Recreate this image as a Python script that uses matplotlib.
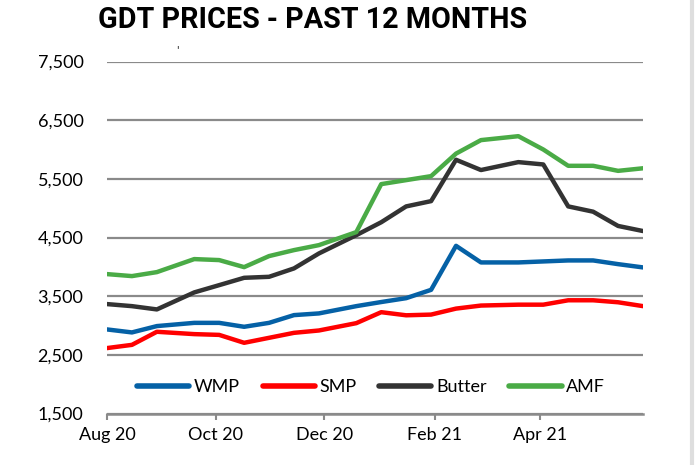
import matplotlib
matplotlib.use("Agg")
import matplotlib.pyplot as plt
import matplotlib.dates as mdates
import numpy as np
from matplotlib import font_manager
from matplotlib.lines import Line2D

# ---------------- data ----------------
auction_dates = ["2020-08-04", "2020-08-18", "2020-09-01", "2020-09-22", "2020-10-06",
                 "2020-10-20", "2020-11-03", "2020-11-17", "2020-12-01", "2020-12-22",
                 "2021-01-05", "2021-01-19", "2021-02-02", "2021-02-16", "2021-03-02",
                 "2021-03-23", "2021-04-06", "2021-04-20", "2021-05-04", "2021-05-18",
                 "2021-06-01"]
wmp = [2933, 2882, 2990, 3045, 3045, 2978, 3045, 3177, 3206, 3330, 3400,
       3466, 3608, 4358, 4075, 4075, 4092, 4109, 4109, 4046, 3990]
smp = [2615, 2670, 2893, 2853, 2840, 2705, 2790, 2875, 2915, 3040, 3227,
       3174, 3186, 3288, 3340, 3355, 3355, 3430, 3430, 3396, 3330]
butter = [3365, 3330, 3274, 3564, 3688, 3813, 3830, 3973, 4228, 4540, 4760,
          5030, 5120, 5825, 5650, 5785, 5745, 5030, 4940, 4697, 4610]
amf = [3876, 3842, 3910, 4132, 4115, 3995, 4183, 4285, 4370, 4592, 5410,
       5478, 5546, 5930, 6160, 6227, 6000, 5722, 5722, 5636, 5680]
series_names = ["WMP", "SMP", "Butter", "AMF"]
tick_dates = ["2020-08-04", "2020-10-04", "2020-12-04", "2021-02-04", "2021-04-04"]
tick_labels = ["Aug 20", "Oct 20", "Dec 20", "Feb 21", "Apr 21"]
y_ticks = [1500, 2500, 3500, 4500, 5500, 6500, 7500]
title = "GDT PRICES - PAST 12 MONTHS"

# ---------------- style ----------------
colors = ["#0561a6", "#ff0000", "#333333", "#4aab46"]
grid_color = "#8a8a8a"
names = {f.name for f in font_manager.fontManager.ttflist}
label_font = ["Lato", "DejaVu Sans"] if "Lato" in names else ["DejaVu Sans"]
title_font = [f for f in ["Liberation Sans Narrow", "Roboto", "DejaVu Sans"] if f in names][:1] + ["DejaVu Sans"]

W, H = 697, 465
fig = plt.figure(figsize=(W / 100, H / 100), dpi=100)
ax = fig.add_axes([107 / W, 1 - 413.5 / H, 536 / W, 352 / H])

x = mdates.date2num(np.array(auction_dates, dtype="datetime64[D]"))
for vals, c, n in zip([wmp, smp, butter, amf], colors, series_names):
    ax.plot(x, vals, color=c, lw=3.2, label=n, solid_joinstyle="round",
            solid_capstyle="round", zorder=3)

ax.set_xlim(x[0], x[-1])
ax.set_ylim(y_ticks[0], y_ticks[-1])
ax.set_yticks(y_ticks)
ax.set_yticklabels([f"{v:,}" for v in y_ticks], family=label_font, fontsize=13)
tx = mdates.date2num(np.array(tick_dates, dtype="datetime64[D]"))
ax.set_xticks(tx)
ax.set_xticklabels(tick_labels, family=label_font, fontsize=13)

ax.yaxis.grid(True, color=grid_color, lw=1.6, zorder=1)
ax.set_axisbelow(True)
for s in ["top", "right", "left"]:
    ax.spines[s].set_visible(False)
ax.spines["bottom"].set_color(grid_color)
ax.spines["bottom"].set_linewidth(1.8)
ax.tick_params(axis="y", length=0, pad=17)
ax.tick_params(axis="x", length=4, width=1.5, color=grid_color, pad=6, direction="out")

leg = ax.legend(loc="center", bbox_to_anchor=(371 / W, 1 - 387 / H),
                bbox_transform=fig.transFigure, ncol=4, frameon=False,
                prop={"family": label_font, "size": 13}, handlelength=2.9,
                handletextpad=0.25, columnspacing=1.25)
for h in leg.get_lines():
    h.set_linewidth(4)

# right border line
fig.add_artist(Line2D([692 / W, 692 / W], [0, 1], transform=fig.transFigure,
                      color="#dedede", lw=3))
# small stray mark
fig.text(177 / W, 1 - 50 / H, "'", fontsize=7, ha="center", va="center", color="black")

t = fig.text(313 / W, 1 - 20 / H, title, fontsize=20, fontweight="bold",
             family=title_font, ha="center", va="center", color="black")
fig.canvas.draw()
w = t.get_window_extent().width
t.set_fontsize(20 * 428 / w)

fig.savefig("out.png", dpi=100, facecolor="white")
